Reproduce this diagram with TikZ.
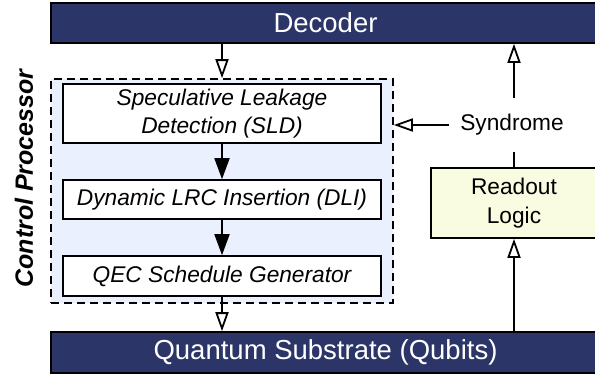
\documentclass[tikz,border=0pt]{standalone}
\usepackage{fontspec}
\setmainfont{Liberation Sans}
\usetikzlibrary{arrows.meta}
\definecolor{navy}{HTML}{2C3567}
\definecolor{cpblue}{HTML}{EAF0FD}
\definecolor{royellow}{HTML}{FAFCE1}

\begin{document}
\begin{tikzpicture}[x=1pt,y=-1pt,
    bar/.style={draw=black,line width=1.6pt,fill=navy,text=white,minimum width=549pt,minimum height=40pt,inner sep=0pt,font=\fontsize{27.5}{30}\selectfont},
    stage/.style={draw=black,line width=1.6pt,fill=white,minimum width=318pt,inner sep=0pt,align=center,font=\fontsize{22.7}{27.3}\selectfont\itshape},
    openarr/.style={line width=1.8pt,-{Triangle[open,length=19pt,width=13pt]}},
    fillarr/.style={line width=1.8pt,-{Triangle[length=21pt,width=15pt]}}]
    \useasboundingbox (0,0) rectangle (595,376);

    % top and bottom bars
    \node[bar] (dec) at (325.5,23) {Decoder};
    \node[bar,minimum height=41pt] (qs) at (325.5,352.5) {Quantum Substrate (Qubits)};

    % control processor
    \node[draw=black,line width=1.6pt,dash pattern=on 8pt off 5pt,fill=cpblue,minimum width=342pt,minimum height=224pt] (cp) at (222,191) {};
    \node[rotate=90,font=\fontsize{25}{25}\selectfont\bfseries\itshape] (cplabel) at (24,178.5) {Control Processor};

    \node[stage,minimum height=59pt] (sld) at (222,113.5) {Speculative Leakage\\Detection (SLD)};
    \node[stage,minimum height=39pt] (dli) at (222,199.5) {Dynamic LRC Insertion (DLI)};
    \node[stage,minimum height=40pt] (qec) at (222,276) {QEC Schedule Generator};

    % readout side
    \node[draw=black,line width=1.6pt,fill=royellow,minimum width=166pt,minimum height=70pt,align=center,font=\fontsize{22.7}{28.5}\selectfont] (ro) at (514,203) {Readout\\Logic};
    \node[inner xsep=11pt,minimum height=54pt,font=\fontsize{22.7}{27}\selectfont] (syn) at (512,125) {Syndrome};

    % connectors
    \draw[openarr] (dec.south -| cp.north) -- (cp.north);
    \draw[fillarr] (sld.south) -- (dli.north);
    \draw[fillarr] (dli.south) -- (qec.north);
    \draw[openarr] (qec.south) -- (qec.south |- qs.north);
    \draw[openarr] (syn.west) -- (syn.west -| cp.east);
    \draw[line width=1.8pt] (ro.north) -- (ro.north |- syn.south);
    \draw[openarr] (ro.north |- syn.north) -- (ro.north |- dec.south);
    \draw[openarr] (qs.north -| ro.south) -- (ro.south);

\end{tikzpicture}
\end{document}
